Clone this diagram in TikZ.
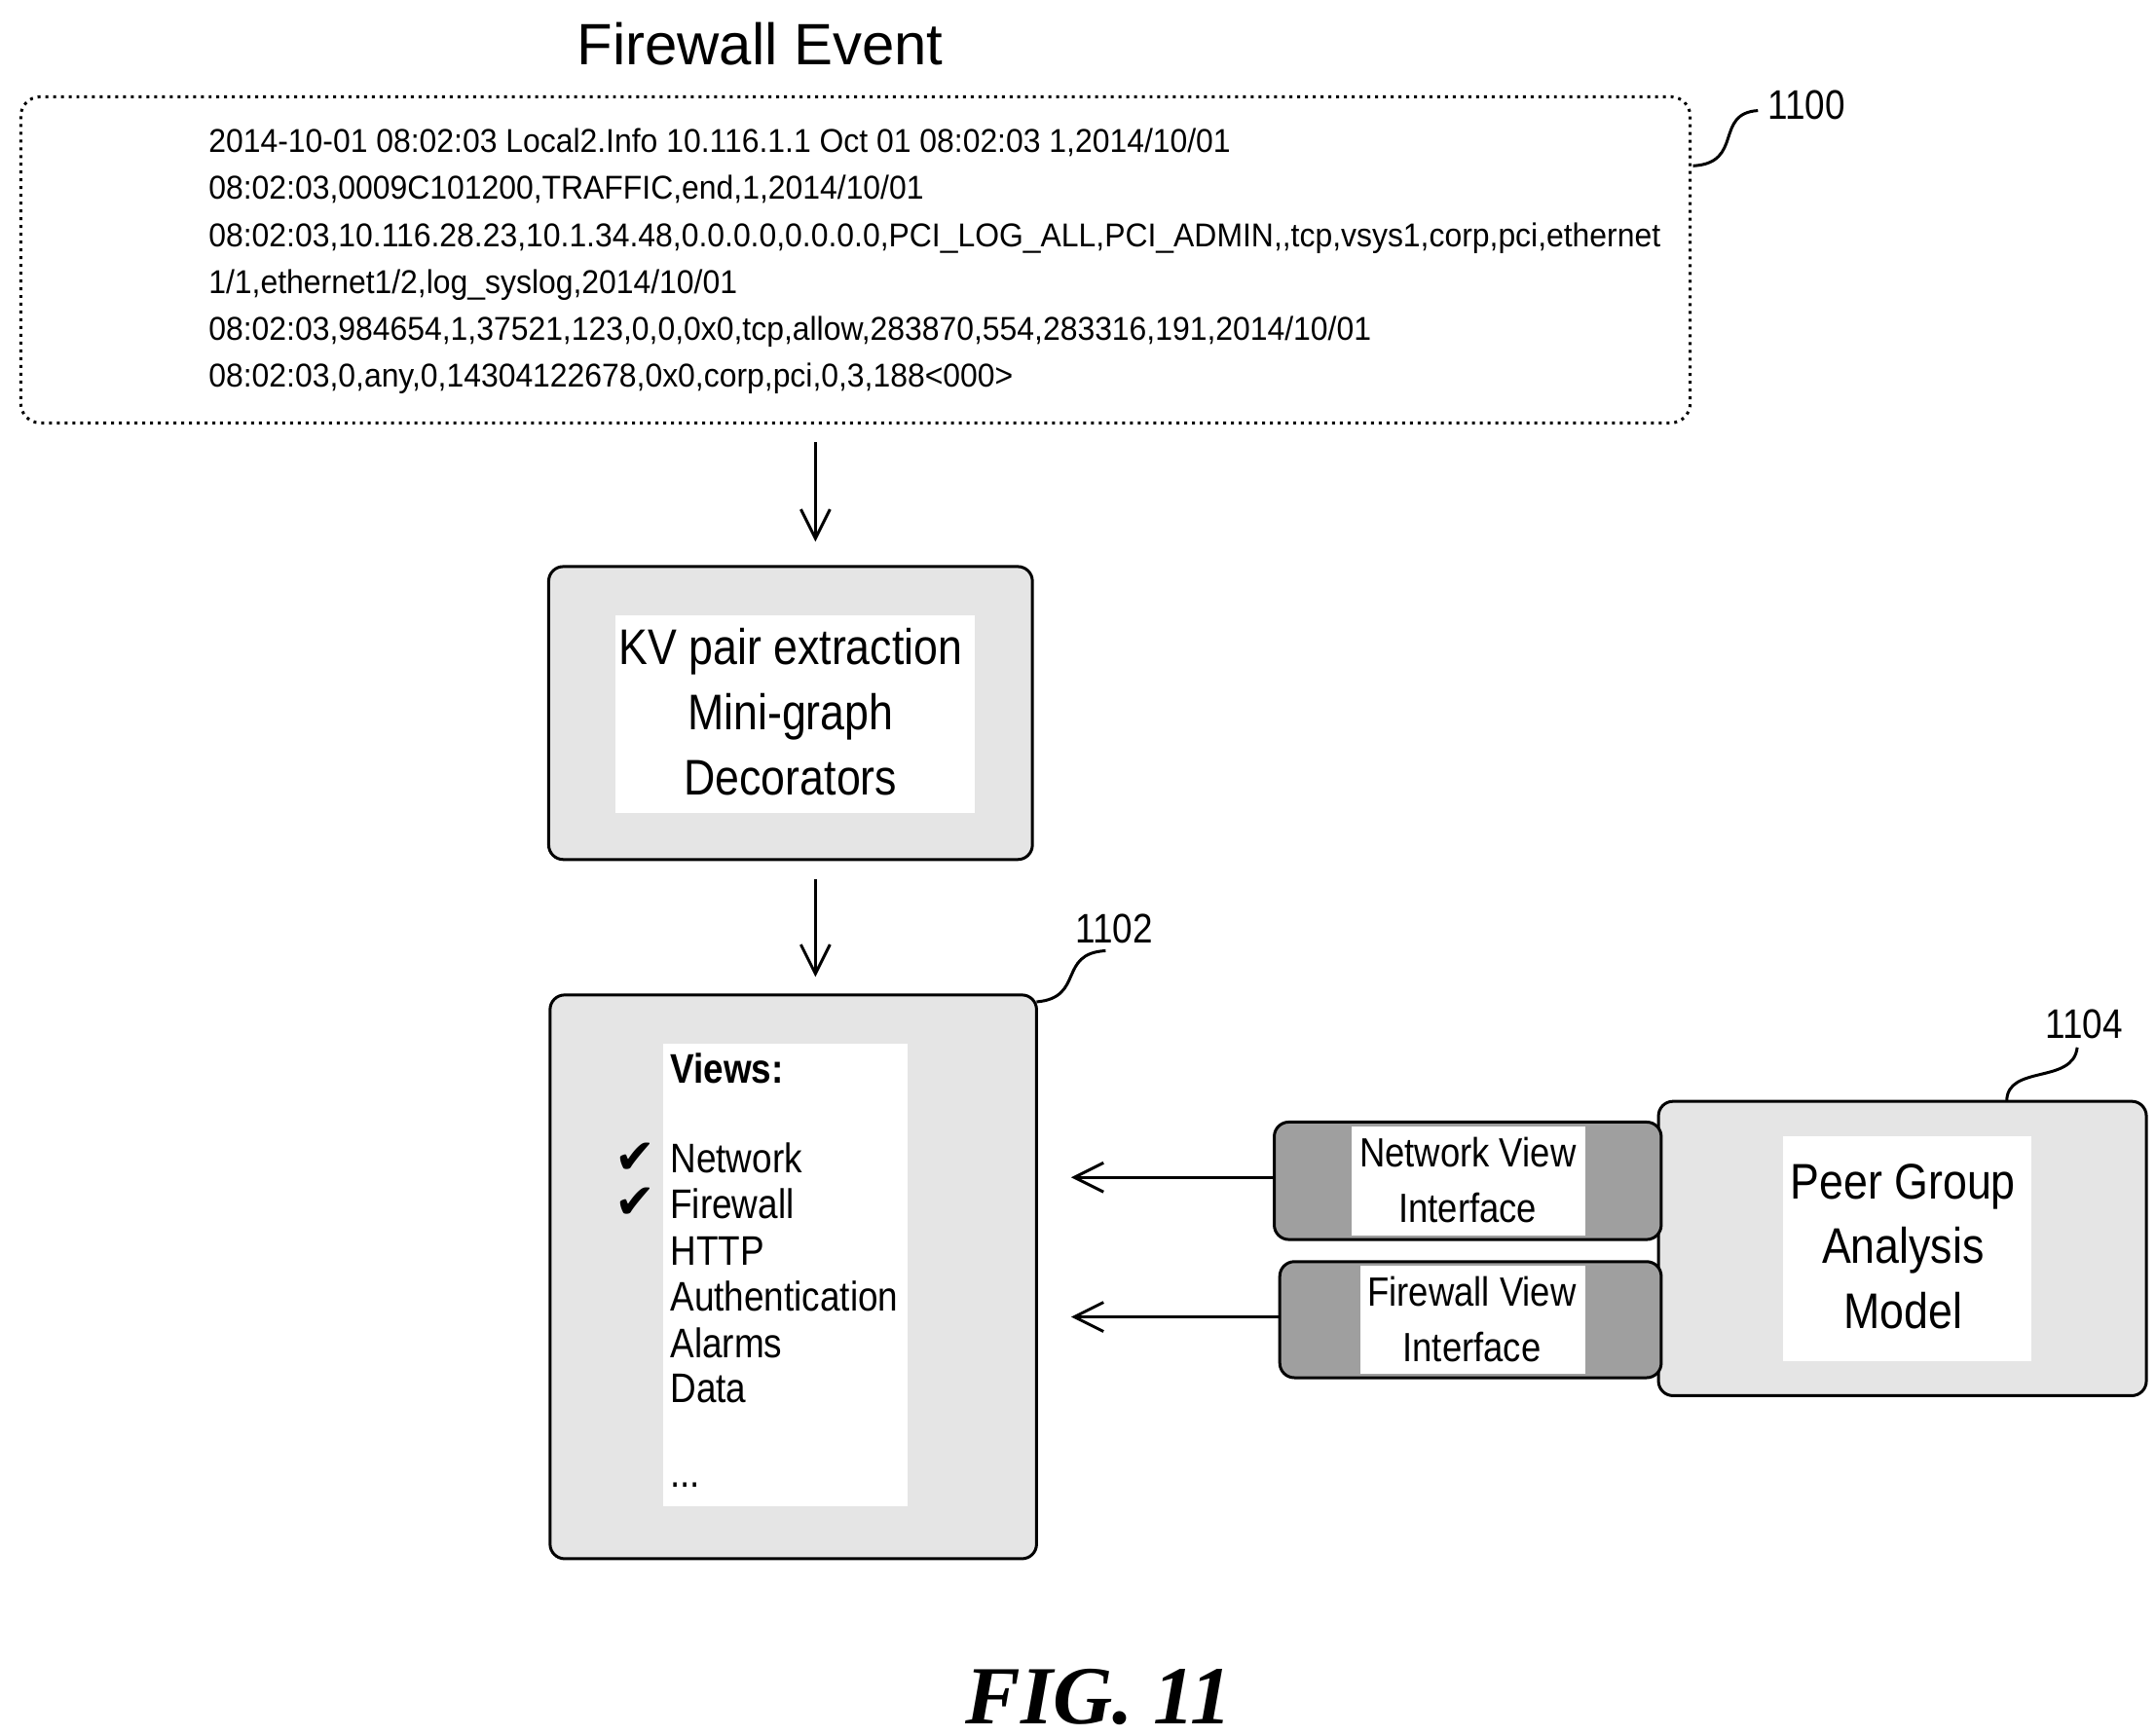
\documentclass[tikz,border=0pt]{standalone}
\usepackage{fontspec}
\setmainfont{Liberation Sans}[FakeStretch=0.87]
\newfontfamily\evfont{Liberation Sans}[FakeStretch=0.94]
\newfontfamily\tfont{Liberation Sans}
\newfontfamily\serifb{Liberation Serif}
\newfontfamily\dv{DejaVu Sans}
\usetikzlibrary{arrows.meta}
\begin{document}
\begin{tikzpicture}[x=0.01cm,y=-0.01cm,
 line width=0.6pt,
 arr/.style={-{Straight Barb[length=6pt,width=6pt]}},
 lite/.style={draw,fill=gray!20,rounded corners=3pt},
 dark/.style={draw,fill=gray!75,rounded corners=3pt},
 wht/.style={fill=white,draw=none},
 lbl/.style={font=\fontsize{8.5pt}{10pt}\selectfont},
 big/.style={font=\fontsize{10.3pt}{13.4pt}\selectfont,align=center},
 mid/.style={font=\fontsize{8.4pt}{11.4pt}\selectfont,align=center},
 vw/.style={anchor=west,inner sep=0,font=\fontsize{8.5pt}{10pt}\selectfont}]
\useasboundingbox (0,0) rectangle (1560,1256);
\node (title) at (550,32) {\fontsize{12pt}{14pt}\selectfont\tfont Firewall Event};
\draw[densely dotted,rounded corners=4pt] (15,70) rectangle (1223,306);
\node (evt) [anchor=north west,align=left,inner sep=0,font=\evfont\fontsize{6.8pt}{9.65pt}\selectfont] at (150,92) {2014-10-01 08:02:03 Local2.Info 10.116.1.1 Oct 01 08:02:03 1,2014/10/01\\
08:02:03,0009C101200,TRAFFIC,end,1,2014/10/01\\
08:02:03,10.116.28.23,10.1.34.48,0.0.0.0,0.0.0.0,PCI\_LOG\_ALL,PCI\_ADMIN,{,}tcp,vsys1,corp,pci,ethernet\\
1/1,ethernet1/2,log\_syslog,2014/10/01\\
08:02:03,984654,1,37521,123,0,0,0x0,tcp,allow,283870,554,283316,191,2014/10/01\\
08:02:03,0,any,0,14304122678,0x0,corp,pci,0,3,188<000>};
\node[lbl] (l1100) at (1307,76) {1100};
\draw (1225,120) .. controls (1262,118) and (1240,82) .. (1272,80);
% KV box
\draw[lite] (397,410) rectangle (747,622);
\fill[wht] (445,445) rectangle (705,588);
\node[big] (kv) at (572,515) {KV pair extraction\\Mini-graph\\Decorators};
\coordinate (a1s) at (590,320); \coordinate (a1e) at (590,392);
\draw[arr] (a1s) -- (a1e);
\coordinate (a2s) at (590,636); \coordinate (a2e) at (590,707);
\draw[arr] (a2s) -- (a2e);
% views
\draw[lite] (398,720) rectangle (750,1128);
\fill[wht] (480,755) rectangle (657,1090);
\node[vw,font=\fontsize{8.5pt}{10pt}\selectfont\bfseries] (views) at (484,773) {Views:};
\node[vw] (va) at (484,838) {Network};
\node[vw] (vb) at (484,871) {Firewall};
\node[vw] (vc) at (484,905) {HTTP};
\node[vw] (vd) at (484,938) {Authentication};
\node[vw] (ve) at (484,972) {Alarms};
\node[vw] (vf) at (484,1005) {Data};
\node[vw] (vg) at (484,1075) {...};
\node[font=\dv\fontsize{10pt}{10pt}\selectfont] (ck1) at (460,838) {✔};
\node[font=\dv\fontsize{10pt}{10pt}\selectfont] (ck2) at (460,871) {✔};
\node[lbl] (l1102) at (806,672) {1102};
\draw (750,725) .. controls (785,722) and (765,690) .. (800,688);
% peer
\draw[lite] (1200,797) rectangle (1553,1010);
\fill[wht] (1290,822) rectangle (1470,985);
\node[big] (peer) at (1377,902) {Peer Group\\Analysis\\Model};
\node[lbl] (l1104) at (1508,741) {1104};
\draw (1452,797) .. controls (1452,770) and (1500,785) .. (1503,758);
% interfaces
\draw[dark] (922,812) rectangle (1202,897);
\fill[wht] (978,815) rectangle (1147,894);
\node[mid] (nvi) at (1062,854) {Network View\\Interface};
\draw[dark] (926,913) rectangle (1202,997);
\fill[wht] (984,916) rectangle (1147,994);
\node[mid] (fvi) at (1065,955) {Firewall View\\Interface};
\coordinate (n1) at (922,852); \coordinate (n2) at (775,852);
\coordinate (f1) at (926,953); \coordinate (f2) at (775,953);
\draw[arr] (n1) -- (n2);
\draw[arr] (f1) -- (f2);
\node (fig) at (795,1228) {\serifb\bfseries\itshape\fontsize{17pt}{20pt}\selectfont FIG. 11};
\end{tikzpicture}
\end{document}
